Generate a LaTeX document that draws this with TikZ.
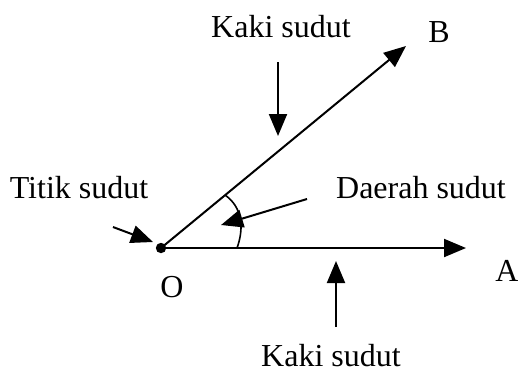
\documentclass[tikz,border=0pt]{standalone}
\usepackage{fontspec}
\setmainfont{Liberation Serif}
\usetikzlibrary{arrows.meta}
\begin{document}
\begin{tikzpicture}[x=0.5pt,y=-0.5pt,
  lbl/.style={font=\fontsize{16}{19}\selectfont, inner sep=0pt},
  ln/.style={line width=1pt},
  arr/.style={ln, -{Triangle[length=11pt,width=9pt]}}]
\useasboundingbox (0,0) rectangle (518,371);
% points
\coordinate (O) at (161,248);
\coordinate (Aend) at (466,248);
\coordinate (Bend) at (406,46);
\fill (O) circle (2.6pt);
\draw[arr] (O) -- (Aend);
\draw[arr] (O) -- (Bend);
% labels
\node[lbl] (A) at (507,271) {A};
\node[lbl] (B) at (439,32) {B};
\node[lbl] (Olab) at (172,287) {O};
\node[lbl] (kaki1) at (281,27) {Kaki sudut};
\node[lbl] (kaki2) at (331,356) {Kaki sudut};
\node[lbl] (titik) at (79,188) {Titik sudut};
\node[lbl] (daerah) at (421,188) {Daerah sudut};
% arc of angle
\coordinate (arcS) at (225,195);
\coordinate (arcE) at (237,248);
\draw[line width=0.8pt] (arcS) to[out=-35,in=70] (arcE);
% pointer arrows
\coordinate (k1s) at (278,62);
\coordinate (k1e) at (278,136);
\draw[arr] (k1s) -- (k1e);
\coordinate (k2s) at (336,327);
\coordinate (k2e) at (336,261);
\draw[arr] (k2s) -- (k2e);
\coordinate (ts) at (113,227);
\coordinate (te) at (153,242);
\draw[arr] (ts) -- (te);
\coordinate (ds) at (307,199);
\coordinate (de) at (221,225);
\draw[arr] (ds) -- (de);
\end{tikzpicture}
\end{document}
